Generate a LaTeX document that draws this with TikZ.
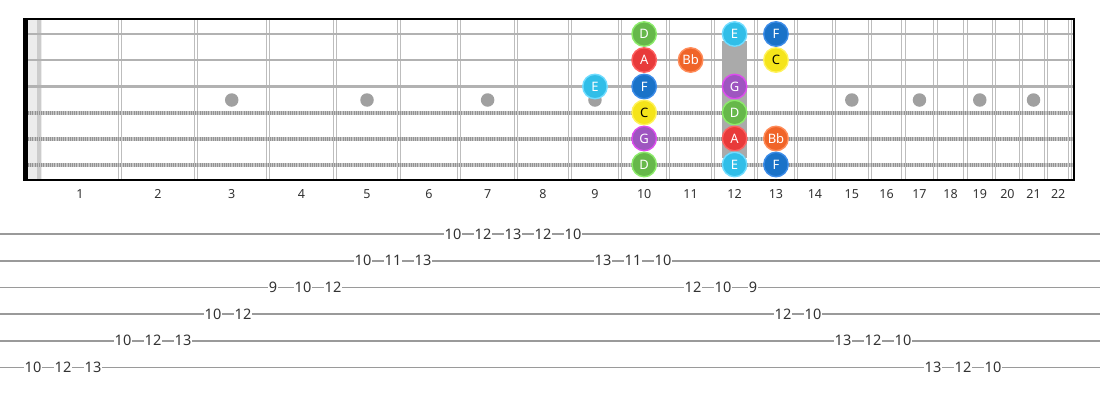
\documentclass[tikz,border=0pt]{standalone}
\usepackage{fontspec}
\setmainfont{Noto Sans}
\definecolor{cD}{HTML}{66B84A}\definecolor{bD}{HTML}{8CEB6A}
\definecolor{cA}{HTML}{E83A3A}\definecolor{bA}{HTML}{FF6060}
\definecolor{cBb}{HTML}{F06428}\definecolor{bBb}{HTML}{FF8C5A}
\definecolor{cE}{HTML}{30BEE8}\definecolor{bE}{HTML}{70DCFF}
\definecolor{cF}{HTML}{1A72C8}\definecolor{bF}{HTML}{3C8CE8}
\definecolor{cC}{HTML}{F5E41A}\definecolor{bC}{HTML}{FFF25A}
\definecolor{cG}{HTML}{9E55C0}\definecolor{bG}{HTML}{DD4CEE}
\definecolor{fretgray}{HTML}{BDBDBD}
\definecolor{dotgray}{HTML}{A0A0A0}
\definecolor{tabline}{HTML}{9A9A9A}
\begin{document}
\begin{tikzpicture}[x=1pt,y=-1pt,
  declare function={fretx(\n)=40+1432*(1-2^(-\n/12));},
  note/.style={circle, minimum size=24.5pt, inner sep=0pt, line width=1.4pt,
    font=\fontsize{13}{13}\selectfont, text=white},
  nD/.style={note, fill=cD, draw=bD},
  nA/.style={note, fill=cA, draw=bA},
  nBb/.style={note, fill=cBb, draw=bBb},
  nE/.style={note, fill=cE, draw=bE},
  nF/.style={note, fill=cF, draw=bF},
  nC/.style={note, fill=cC, draw=bC, text=black},
  nG/.style={note, fill=cG, draw=bG},
  tabnum/.style={fill=white, inner sep=1pt, font=\fontsize{14.5}{15}\selectfont, text=black!80},
  fretnum/.style={inner sep=0pt, font=\fontsize{12.5}{13}\selectfont, text=black!80},
  inlay/.style={circle, fill=dotgray, minimum size=13.5pt, inner sep=0pt},
  plainstring/.style={draw=gray!60, line width=2.8pt},
  woundbase/.style={draw=gray!45, line width=4pt},
  woundtick/.style={draw=gray!85, line width=4pt, dash pattern=on 0.9pt off 1.3pt},
  fretline/.style={draw=fretgray, line width=0.9pt},
  tabl/.style={draw=tabline, line width=1.6pt},
]
\useasboundingbox (0,0) rectangle (1100,400);

% nut area
\fill[gray!15] (28,19) rectangle (42,180);
\fill[gray!40] (37,19) rectangle (41,180);

% frets (double lines)
\foreach \n in {1,...,22}{
  \pgfmathsetmacro{\xf}{fretx(\n)}
  \draw[fretline] (\xf-1.6,19) -- (\xf-1.6,180);
  \draw[fretline] (\xf+1.6,19) -- (\xf+1.6,180);
}

% strings
\foreach \y in {34,60,86.5}{
  \draw[plainstring] (28,\y) -- (1073,\y);
}
\foreach \y in {112.5,138.5,164.5}{
  \draw[woundbase] (28,\y) -- (1073,\y);
  \draw[woundtick] (28,\y) -- (1073,\y);
}

% inlays
\foreach \n in {3,5,7,9,15,17,19,21}{
  \pgfmathsetmacro{\xm}{(fretx(\n-1)+fretx(\n))/2}
  \node[inlay] (dot\n) at (\xm,100) {};
}
\fill[dotgray!90] (722,41) rectangle (747,158);

% borders
\draw[black, line width=1.8pt] (23,19) -- (1074,19);
\draw[black, line width=1.8pt] (23,180) -- (1074,180);
\draw[black, line width=1.6pt] (1074,18.1) -- (1074,180.9);
\fill[black] (22.5,18.1) rectangle (28,180.9);

% fret numbers
\foreach \n in {1,...,22}{
  \pgfmathsetmacro{\xm}{(fretx(\n-1)+fretx(\n))/2}
  \node[fretnum] (fn\n) at (\xm,194) {\n};
}

% notes
\pgfmathsetmacro{\xnine}{(fretx(8)+fretx(9))/2}
\pgfmathsetmacro{\xten}{(fretx(9)+fretx(10))/2}
\pgfmathsetmacro{\xele}{(fretx(10)+fretx(11))/2}
\pgfmathsetmacro{\xtwe}{(fretx(11)+fretx(12))/2}
\pgfmathsetmacro{\xthi}{(fretx(12)+fretx(13))/2}
\node[nD] (s1f10) at (\xten,34) {D};
\node[nE] (s1f12) at (\xtwe,34) {E};
\node[nF] (s1f13) at (\xthi,34) {F};
\node[nA] (s2f10) at (\xten,60) {A};
\node[nBb] (s2f11) at (\xele,60) {Bb};
\node[nC] (s2f13) at (\xthi,60) {C};
\node[nE] (s3f9) at (\xnine,86.5) {E};
\node[nF] (s3f10) at (\xten,86.5) {F};
\node[nG] (s3f12) at (\xtwe,86.5) {G};
\node[nC] (s4f10) at (\xten,112.5) {C};
\node[nD] (s4f12) at (\xtwe,112.5) {D};
\node[nG] (s5f10) at (\xten,138.5) {G};
\node[nA] (s5f12) at (\xtwe,138.5) {A};
\node[nBb] (s5f13) at (\xthi,138.5) {Bb};
\node[nD] (s6f10) at (\xten,164.5) {D};
\node[nE] (s6f12) at (\xtwe,164.5) {E};
\node[nF] (s6f13) at (\xthi,164.5) {F};

% tab lines
\foreach \y [count=\i] in {234,260.7,287.3,314,340.7,367.3}{
  \draw[tabl] (0,\y) -- (1100,\y);
}

% tab numbers: (k, line y, text); x = 33 + 30k
\foreach \k/\y/\t in {
  0/367.3/10, 1/367.3/12, 2/367.3/13,
  3/340.7/10, 4/340.7/12, 5/340.7/13,
  6/314/10, 7/314/12,
  8/287.3/9, 9/287.3/10, 10/287.3/12,
  11/260.7/10, 12/260.7/11, 13/260.7/13,
  14/234/10, 15/234/12, 16/234/13, 17/234/12, 18/234/10,
  19/260.7/13, 20/260.7/11, 21/260.7/10,
  22/287.3/12, 23/287.3/10, 24/287.3/9,
  25/314/12, 26/314/10,
  27/340.7/13, 28/340.7/12, 29/340.7/10,
  30/367.3/13, 31/367.3/12, 32/367.3/10}{
  \node[tabnum] (t\k) at (33+30*\k,\y) {\t};
}
\end{tikzpicture}
\end{document}
